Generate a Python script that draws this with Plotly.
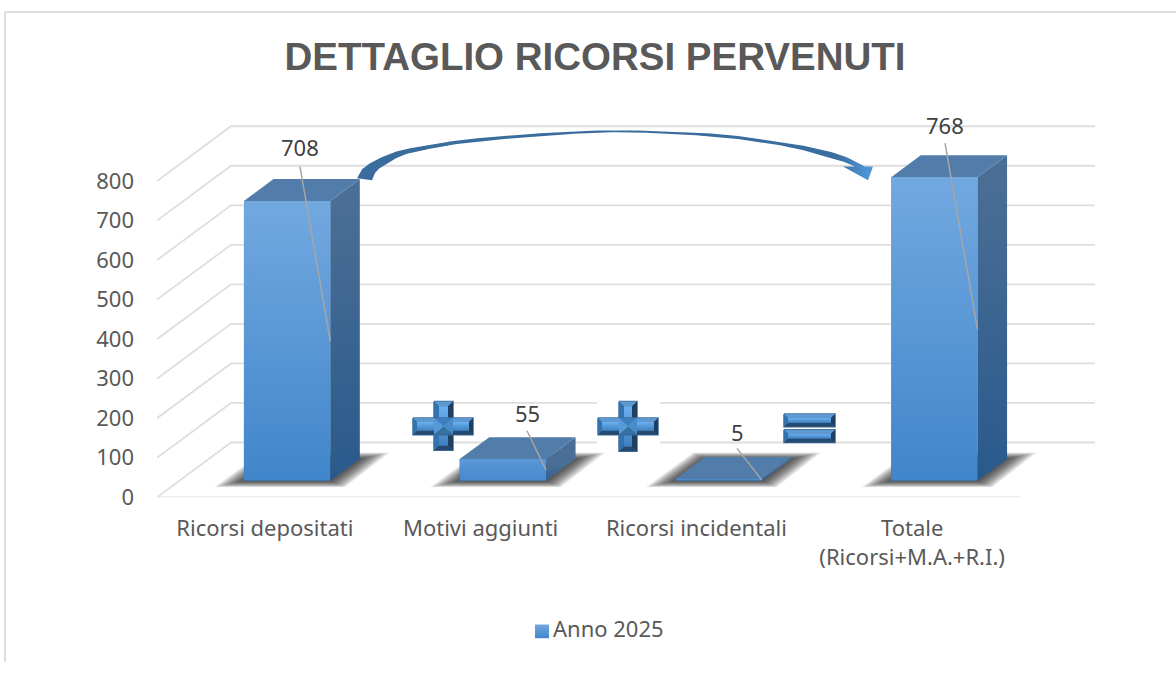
import plotly.graph_objects as go

# --- data ---
categories = ["Ricorsi depositati", "Motivi aggiunti", "Ricorsi incidentali", "Totale<br>(Ricorsi+M.A.+R.I.)"]
values = [708, 55, 5, 768]
y_ticks = [0, 100, 200, 300, 400, 500, 600, 700, 800]
series_name = "Anno 2025"
title_text = "DETTAGLIO RICORSI PERVENUTI"

# --- geometry of the oblique projection ---
W, H = 1176, 674
PX_L, PX_R, PX_T, PX_B = 157, 1095, 100, 506
MARGIN_B = 14
CAT_PX = 215.75
VAL_PX = 0.404
DEPTH_X = 74 / CAT_PX
DEPTH_Y = 56 / VAL_PX
BAR_W = 0.4
NEAR, FAR = 0.3, 0.7
X_MIN = -0.5
X_MAX = X_MIN + (PX_R - PX_L) / CAT_PX
Y_MAX = (PX_B - PX_T) / VAL_PX
FONT = "Noto Sans"
PAPER_H = H - PX_T - MARGIN_B


def X(px):
    return X_MIN + (px - PX_L) / CAT_PX


def Y(py):
    return (PX_B - py) / VAL_PX


def paper_x(px):
    return (px - PX_L) / (PX_R - PX_L)


def paper_y(py):
    return (H - MARGIN_B - py) / PAPER_H


def smooth(pts, n=12):
    """Catmull-Rom sampling of a drawn outline (decoration only)."""
    out = []
    p = [pts[0]] + list(pts) + [pts[-1]]
    for i in range(1, len(p) - 2):
        for k in range(n):
            t = k / n
            out.append(tuple(
                0.5 * (2 * p[i][c] + (p[i + 1][c] - p[i - 1][c]) * t
                       + (2 * p[i - 1][c] - 5 * p[i][c] + 4 * p[i + 1][c] - p[i + 2][c]) * t * t
                       + (3 * p[i][c] - p[i - 1][c] - 3 * p[i + 1][c] + p[i + 2][c]) * t ** 3)
                for c in (0, 1)))
    out.append(pts[-1])
    return out


fig = go.Figure()


def poly(xs, ys, color=None, grad=None, orient="vertical", line=None, lw=0, start=None, stop=None, **extra):
    kw = dict(x=list(xs) + [xs[0]], y=list(ys) + [ys[0]], mode="lines", fill="toself",
              hoverinfo="skip", showlegend=False, cliponaxis=False,
              line=dict(width=lw, color=line or "rgba(0,0,0,0)"), **extra)
    if grad:
        g = dict(type=orient, colorscale=[[0, grad[0]], [1, grad[1]]])
        if start is not None:
            g["start"], g["stop"] = start, stop
        kw["fillgradient"] = g
    else:
        kw["fillcolor"] = color
    fig.add_trace(go.Scatter(**kw))


def px_poly(pts, **kw):
    poly([X(p[0]) for p in pts], [Y(p[1]) for p in pts], **kw)


def seg(xs, ys, color, width):
    fig.add_trace(go.Scatter(x=xs, y=ys, mode="lines", line=dict(color=color, width=width),
                             hoverinfo="skip", showlegend=False, cliponaxis=False))


# --- walls ---
GRID = "#DEDEDE"
for v in y_ticks:
    seg([X_MIN, X_MIN + DEPTH_X, X_MAX], [v, v + DEPTH_Y, v + DEPTH_Y], GRID, 1.8)
seg([X_MIN, len(categories) - 0.5], [0, 0], GRID, 1.8)

# --- shadows on the floor ---
for i in range(len(values)):
    cx = i + NEAR * DEPTH_X
    yb = NEAR * DEPTH_Y
    yt = FAR * DEPTH_Y
    ddx = (FAR - NEAR) * DEPTH_X
    e = 30.0
    while e > 0:
        ex = e / CAT_PX
        ey = e * 0.22 / VAL_PX
        poly([cx - BAR_W / 2 - ex, cx + BAR_W / 2 + ex * 0.5, cx + BAR_W / 2 + ddx + ex, cx - BAR_W / 2 + ddx - ex * 0.4],
             [yb - ey, yb - ey, yt + ey, yt + ey], color="rgba(25,25,25,0.055)")
        e -= 1.5

# --- white backing of the second plus sign ---
px_poly([(597, 404), (660, 404), (660, 460), (597, 460)], color="white")

# --- bars: front through bar trace, gradient / side / top from the same values ---
bar_x = [i + NEAR * DEPTH_X for i in range(len(values))]
base = NEAR * DEPTH_Y
fig.add_trace(go.Bar(x=bar_x, y=values, base=[base] * len(values), width=BAR_W, name=series_name,
                     legendgroup="s", marker=dict(color="#5B9BD5", line=dict(width=0)),
                     hoverinfo="skip", showlegend=False))
ddx = (FAR - NEAR) * DEPTH_X
ddy = (FAR - NEAR) * DEPTH_Y
for cx, v in zip(bar_x, values):
    l, r = cx - BAR_W / 2, cx + BAR_W / 2
    t = base + v
    # right side
    poly([r, r + ddx, r + ddx, r], [base, base + ddy, t + ddy, t],
         grad=("#28598C", "#4A6E95"), start=base, stop=base + max(v, 60))
    # top
    poly([l, r, r + ddx, l + ddx], [t, t, t + ddy, t + ddy], color="#527DAB")
    # front
    poly([l, r, r, l], [base, base, t, t], grad=("#3F85CA", "#72A8E0"),
         start=base, stop=base + max(v, 140))

# --- curved arrow ---
outer = smooth([(357, 180), (362, 171), (373, 163), (390, 155), (407, 150), (440, 144), (473, 139.5), (540, 134),
                (607, 131), (660, 132), (720, 135), (760, 140), (800, 146), (840, 156), (865, 168)])
inner = smooth([(855, 168), (840, 162), (800, 150.5), (760, 143), (720, 138),
                (660, 134), (607, 133), (540, 137), (473, 143), (440, 148), (407, 155), (390, 163),
                (377, 172), (372, 182)])
px_poly(outer + [(873, 168), (868, 182), (843, 168)] + inner,
        grad=("#3A6C9E", "#4F94D8"), orient="horizontal", start=X(835), stop=X(868))

# --- bevelled signs ---
C_TOP, C_LEFT, C_RIGHT, C_BOT, C_EDGE = "#5E98D0", "#3272AE", "#1E3F62", "#26496F", "#3E6E9B"
FACE = ("#3D80C0", "#6CB0F0")


def bevel_rect(x0, y0, x1, y1, b):
    px_poly([(x0, y0), (x1, y0), (x1, y1), (x0, y1)], color=C_EDGE, line=C_EDGE, lw=1.5)
    px_poly([(x0, y0), (x1, y0), (x1 - b, y0 + b), (x0 + b, y0 + b)], color=C_TOP)
    px_poly([(x0, y1), (x1, y1), (x1 - b, y1 - b), (x0 + b, y1 - b)], color=C_BOT)
    px_poly([(x0, y0), (x0 + b, y0 + b), (x0 + b, y1 - b), (x0, y1)], color=C_LEFT)
    px_poly([(x1, y0), (x1 - b, y0 + b), (x1 - b, y1 - b), (x1, y1)], color=C_RIGHT)
    px_poly([(x0 + b, y0 + b), (x1 - b, y0 + b), (x1 - b, y1 - b), (x0 + b, y1 - b)], grad=FACE)


def plus_sign(x0, x1, vx0, vx1, y0, y1, hy0, hy1):
    bevel_rect(vx0, y0, vx1, y1, 5)
    bevel_rect(x0, hy0, x1, hy1, 4)
    mx, my = (vx0 + vx1) / 2, (hy0 + hy1) / 2
    # junction: the facets meet softly around the centre
    px_poly([(vx0, hy0), (vx1, hy0), (mx, my)], color="#3D7FBE")
    px_poly([(vx0, hy1), (vx1, hy1), (mx, my)], color="#36719F")
    px_poly([(vx0, hy0), (vx0, hy1), (mx, my)], color="#5799D8")
    px_poly([(vx1, hy0), (vx1, hy1), (mx, my)], color="#4A8CCB")


plus_sign(413, 473, 434, 453, 408, 458, 425, 442)
plus_sign(598, 658, 619, 637, 408, 459, 425, 442)
bevel_rect(784, 421, 835, 434, 4)
bevel_rect(784, 437, 835, 450, 4)

# --- leader lines and data labels (offsets of the label from the bar) ---
label_px = [(300, 148), (527, 420), (737, 439), (945, 126)]
leader_px = [(300, 168), (527, 438), (737, 456), (945, 144)]
for cx, v, lp, tp in zip(bar_x, values, leader_px, label_px):
    seg([X(lp[0]), cx + BAR_W / 2], [Y(lp[1]), base + v / 2], "#A6A6A6", 1.5)
    fig.add_annotation(x=X(tp[0]), y=Y(tp[1]), text=str(v), showarrow=False,
                       font=dict(family=FONT, size=22, color="#404040"))

# --- legend: gradient swatch on a strip axis below the chart, real legend entry beside it ---
poly([535, 549, 549, 535], [636, 636, 650, 650], grad=("#3F85CA", "#72A8E0"), xaxis="x2", yaxis="y2")
fig.add_trace(go.Bar(x=[None], y=[None], name=series_name, legendgroup="s",
                     marker=dict(color="rgba(0,0,0,0)", line=dict(width=0)), hoverinfo="skip", showlegend=True))

shapes = [
    dict(type="line", xref="paper", yref="paper", x0=paper_x(5), x1=paper_x(W),
         y0=paper_y(10), y1=paper_y(10), line=dict(color="#DDDDDD", width=2)),
    dict(type="line", xref="paper", yref="paper", x0=paper_x(5), x1=paper_x(5),
         y0=paper_y(10), y1=paper_y(H), line=dict(color="#DDDDDD", width=2)),
]

hidden = dict(visible=False, fixedrange=True)
fig.update_layout(
    width=W, height=H, autosize=False,
    margin=dict(l=PX_L, r=W - PX_R, t=PX_T, b=MARGIN_B, pad=0),
    paper_bgcolor="white", plot_bgcolor="white",
    font=dict(family=FONT, size=22, color="#595959"),
    title=dict(text=f"<b>{title_text}</b>", x=595 / W, xref="container", xanchor="center",
               y=1 - 57 / H, yref="container", yanchor="middle",
               font=dict(family="Liberation Sans", size=38.5, color="#595959")),
    xaxis=dict(range=[X_MIN, X_MAX], tickvals=list(range(len(categories))), ticktext=categories,
               showgrid=False, zeroline=False, showline=False, ticks="", ticklabelstandoff=16, fixedrange=True),
    yaxis=dict(range=[0, Y_MAX], domain=[paper_y(PX_B), 1], tickvals=y_ticks, showgrid=False, zeroline=False,
               showline=False, ticks="", ticklabelstandoff=22, fixedrange=True),
    xaxis2=dict(range=[PX_L, PX_R], anchor="y2", **hidden),
    yaxis2=dict(range=[H - MARGIN_B, 610], domain=[0, paper_y(610)], anchor="x2", **hidden),
    barmode="overlay",
    showlegend=True,
    legend=dict(x=paper_x(513), xanchor="left", y=paper_y(662), yanchor="bottom",
                orientation="h", font=dict(size=22, color="#595959"), bgcolor="rgba(0,0,0,0)"),
    shapes=shapes,
)

fig.write_html("out.html", config=dict(displayModeBar=False),
               post_script="document.body.style.margin='0';document.documentElement.style.overflow='hidden';")
